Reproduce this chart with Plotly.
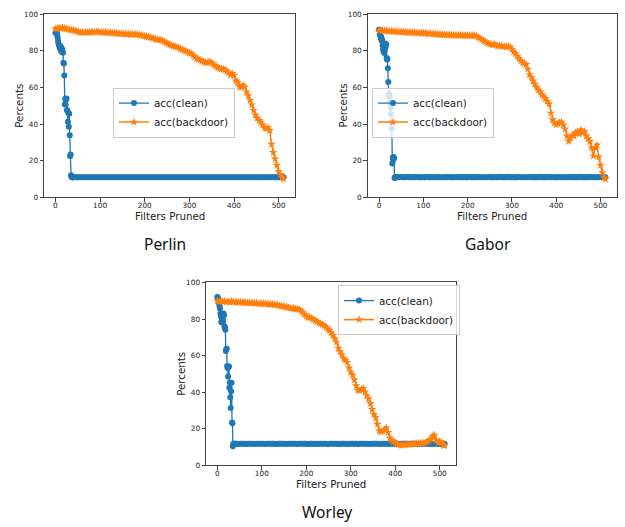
import plotly.graph_objects as go

# ---------------- data ----------------
filters_bd = list(range(0, 509, 4)) + [511]
filters_clean = list(range(0, 41)) + list(range(44, 509, 4)) + [511]

perlin_clean = [
    90.0, 89.8, 89.5, 89.9, 88.7, 87.2, 85.3, 84.0, 83.1, 82.5,
    81.4, 82.6, 80.3, 81.8, 79.6, 80.8, 79.2, 78.9, 73.4, 73.0,
    66.5, 50.8, 53.8, 50.5, 53.2, 54.0, 47.5, 47.2, 41.3, 46.0,
    38.5, 45.6, 33.9, 22.5, 23.4, 12.0, 11.1, 10.9, 10.9, 11.0, 10.9,
    11.0, 10.9, 10.9, 11.0, 10.9, 10.9, 10.9, 11.0, 10.9, 10.9, 10.9, 11.0, 10.9, 10.9, 10.9, 10.9, 11.0, 10.9, 10.9, 10.9,
    10.9, 10.9, 11.0, 10.9, 10.9, 10.9, 10.9, 10.9, 11.0, 10.9, 10.9, 10.9, 10.9, 10.9, 11.0, 10.9, 10.9, 10.9, 10.9, 10.9,
    11.0, 10.9, 10.9, 10.9, 10.9, 11.0, 10.9, 10.9, 10.9, 10.9, 10.9, 11.0, 10.9, 10.9, 10.9, 10.9, 10.9, 11.0, 10.9, 10.9,
    10.9, 10.9, 11.0, 10.9, 10.9, 10.9, 10.9, 10.9, 11.0, 10.9, 10.9, 10.9, 10.9, 10.9, 11.0, 10.9, 10.9, 10.9, 10.9, 10.9,
    11.0, 10.9, 10.9, 10.9, 10.9, 11.0, 10.9, 10.9, 10.9, 10.9, 10.9, 11.0, 10.9, 10.9, 10.9, 10.9, 10.9, 11.0, 10.9, 10.9,
    10.9, 10.9, 11.0, 10.9, 10.9, 10.9, 10.9, 10.9, 11.0, 10.9, 10.9, 10.9, 10.9, 10.9, 11.0, 10.9, 11.0, 11.0,
]
perlin_backdoor = [
    92.0, 92.2, 92.4, 92.3, 92.5, 92.2, 92.0, 91.8, 91.5, 91.3, 91.2, 91.0, 90.6, 90.3, 89.9, 90.1,
    90.0, 90.2, 90.0, 90.1, 90.3, 90.1, 90.2, 90.4, 90.3, 90.2, 90.1, 90.0, 90.2, 89.9, 89.8, 89.9,
    89.7, 89.6, 89.7, 89.5, 89.3, 89.4, 89.1, 89.3, 89.0, 89.2, 88.9, 89.1, 89.0, 88.8, 89.0, 88.6,
    88.4, 88.3, 88.0, 87.8, 87.5, 87.4, 87.0, 86.8, 86.3, 86.1, 86.0, 85.9, 85.4, 85.0, 84.4, 83.8,
    83.2, 83.0, 82.6, 82.4, 81.9, 81.6, 81.0, 80.6, 80.2, 79.9, 79.3, 78.8, 78.6, 77.5, 76.6, 75.8,
    75.3, 74.9, 74.4, 74.0, 73.6, 73.5, 74.0, 73.8, 72.8, 72.0, 71.4, 70.8, 70.3, 70.1, 70.2, 69.6,
    68.8, 67.9, 66.8, 67.6, 66.5, 63.5, 62.8, 60.5, 60.0, 61.2, 60.3, 57.6, 55.5, 53.0, 50.5, 47.5,
    45.0, 43.2, 42.0, 41.0, 39.5, 38.0, 37.6, 38.0, 36.5, 29.0, 24.5, 21.0, 17.5, 14.0, 12.5, 11.0,
    10.0,
]

gabor_clean = [
    91.5, 91.3, 89.0, 88.2, 86.8, 87.5, 85.6, 86.0, 83.0, 81.0,
    79.6, 82.3, 78.8, 80.5, 84.0, 82.0, 83.5, 76.0, 75.2, 75.6,
    70.5, 63.0, 56.0, 56.5, 55.0, 51.8, 49.0, 45.5, 40.8, 37.4,
    18.5, 21.8, 20.5, 22.0, 21.3, 10.6, 11.0, 11.0, 11.0, 11.0, 11.0,
    11.0, 11.1, 11.0, 11.0, 11.0, 11.1, 11.0, 11.0, 11.0, 11.0, 11.1, 11.0, 11.0, 11.0, 11.0, 11.0, 11.1, 11.0, 11.0, 11.0,
    11.0, 11.0, 11.1, 11.0, 11.0, 11.0, 11.0, 11.0, 11.1, 11.0, 11.0, 11.0, 11.0, 11.0, 11.1, 11.0, 11.0, 11.0, 11.0, 11.0,
    11.1, 11.0, 11.0, 11.0, 11.0, 11.1, 11.0, 11.0, 11.0, 11.0, 11.0, 11.1, 11.0, 11.0, 11.0, 11.0, 11.0, 11.1, 11.0, 11.0,
    11.0, 11.0, 11.1, 11.0, 11.0, 11.0, 11.0, 11.0, 11.1, 11.0, 11.0, 11.0, 11.0, 11.0, 11.1, 11.0, 11.0, 11.0, 11.0, 11.0,
    11.1, 11.0, 11.0, 11.0, 11.0, 11.1, 11.0, 11.0, 11.0, 11.0, 11.0, 11.1, 11.0, 11.0, 11.0, 11.0, 11.0, 11.1, 11.0, 11.0,
    11.0, 11.0, 11.1, 11.0, 11.0, 11.0, 11.0, 11.0, 11.1, 11.0, 11.0, 11.0, 11.0, 11.0, 11.1, 11.0, 11.0, 11.0,
]
gabor_backdoor = [
    91.0, 91.2, 91.0, 90.9, 91.1, 90.8, 90.6, 90.7, 90.5, 90.6, 90.4, 90.5, 90.3, 90.2, 90.3, 90.1,
    90.0, 90.2, 89.9, 90.0, 89.8, 89.9, 89.7, 89.8, 89.6, 89.7, 89.5, 89.6, 89.3, 89.4, 89.2, 89.3,
    89.0, 89.1, 88.9, 88.8, 88.9, 88.7, 88.8, 88.6, 88.7, 88.5, 88.6, 88.4, 88.5, 88.6, 88.4, 88.3,
    88.5, 88.2, 88.4, 88.3, 88.1, 88.4, 88.3, 88.0, 87.3, 86.8, 86.1, 85.4, 84.9, 84.2, 83.8, 83.5,
    83.1, 83.6, 83.2, 82.5, 82.8, 82.6, 82.3, 82.5, 82.2, 82.4, 82.0, 80.8, 79.5, 78.5, 77.0, 75.8,
    74.5, 73.5, 73.0, 72.5, 70.0, 67.0, 65.5, 63.5, 61.8, 60.0, 58.5, 57.5, 56.0, 54.8, 53.8, 52.5,
    51.0, 46.0, 42.5, 40.5, 39.8, 40.2, 40.9, 41.0, 39.5, 37.3, 33.5, 30.6, 32.4, 34.0, 33.5, 35.2,
    36.0, 34.5, 36.8, 35.4, 36.0, 33.5, 32.0, 30.5, 27.0, 22.5, 27.0, 28.6, 22.0, 17.5, 13.5, 10.8,
    10.0,
]

worley_clean = [
    92.0, 91.8, 91.0, 89.8, 88.3, 87.0, 85.8, 83.0, 81.5, 78.3,
    79.6, 82.8, 80.2, 78.6, 83.0, 82.1, 76.0, 75.2, 74.2, 62.5,
    63.4, 63.8, 54.3, 53.2, 48.6, 53.7, 54.0, 42.4, 45.3, 37.2,
    31.3, 40.5, 45.2, 23.4, 23.0, 10.4, 11.6, 11.8, 11.8, 11.8, 11.8,
    11.8, 11.7, 11.8, 11.8, 11.8, 11.7, 11.8, 11.8, 11.8, 11.8, 11.7, 11.8, 11.8, 11.8, 11.8, 11.8, 11.7, 11.8, 11.8, 11.8,
    11.8, 11.8, 11.7, 11.8, 11.8, 11.8, 11.8, 11.8, 11.7, 11.8, 11.8, 11.8, 11.8, 11.8, 11.7, 11.8, 11.8, 11.8, 11.8, 11.8,
    11.7, 11.8, 11.8, 11.8, 11.8, 11.7, 11.8, 11.8, 11.8, 11.8, 11.8, 11.7, 11.8, 11.8, 11.8, 11.8, 11.8, 11.7, 11.8, 11.8,
    11.8, 11.8, 11.7, 11.8, 11.8, 11.8, 11.8, 11.8, 11.7, 11.8, 11.8, 11.8, 11.8, 11.8, 11.7, 11.8, 11.8, 11.8, 11.8, 11.8,
    11.7, 11.8, 11.8, 11.8, 11.8, 11.7, 11.8, 11.8, 11.8, 11.8, 11.8, 11.7, 11.8, 11.8, 11.8, 11.8, 11.8, 11.7, 11.8, 11.8,
    11.8, 11.8, 11.7, 11.8, 11.8, 11.8, 11.8, 11.8, 11.7, 11.8, 11.8, 11.8, 11.8, 11.8, 11.7, 11.8, 11.8, 11.8,
]
worley_backdoor = [
    89.9, 89.6, 89.8, 89.5, 89.7, 89.4, 89.6, 89.3, 89.5, 89.4, 89.2, 89.4, 89.1, 89.3, 89.0, 89.2,
    89.0, 88.8, 89.0, 88.7, 88.9, 88.6, 88.8, 88.5, 88.4, 88.6, 88.3, 88.4, 88.1, 88.2, 88.0, 88.1,
    87.8, 87.9, 87.6, 87.3, 87.1, 87.0, 86.7, 86.5, 86.2, 86.0, 85.8, 85.9, 85.5, 85.6, 85.2, 84.4,
    83.5, 82.4, 81.5, 81.0, 80.8, 80.3, 79.7, 79.2, 78.6, 77.9, 77.5, 77.0, 76.4, 75.5, 74.6, 73.8,
    72.5, 71.0, 69.3, 67.4, 64.0, 62.2, 60.5, 58.3, 57.5, 56.2, 53.2, 51.0, 49.4, 46.8, 43.5, 41.0,
    40.8, 41.5, 42.0, 40.2, 38.0, 36.4, 33.8, 30.5, 27.8, 26.3, 22.5, 18.8, 18.3, 18.6, 19.5, 20.4,
    18.0, 14.8, 13.6, 13.0, 12.4, 11.6, 11.3, 11.0, 11.1, 11.3, 11.2, 11.4, 11.5, 11.6, 11.7, 11.8,
    11.9, 12.0, 12.1, 11.9, 12.3, 12.5, 12.8, 13.6, 14.4, 15.8, 16.5, 13.8, 12.3, 13.0, 12.6, 11.0,
    10.8,
]

panel_names = ["Perlin", "Gabor", "Worley"]
series_names = ["acc(clean)", "acc(backdoor)"]
x_ticks = [0, 100, 200, 300, 400, 500]
y_ticks = [0, 20, 40, 60, 80, 100]

assert len(filters_bd) == len(perlin_backdoor) == len(gabor_backdoor) == len(worley_backdoor)
assert len(filters_clean) == len(perlin_clean) == len(gabor_clean) == len(worley_clean), (
    len(filters_clean), len(perlin_clean), len(gabor_clean), len(worley_clean))

# ---------------- styling / layout ----------------
W, H = 625, 527
BLUE = "#1f77b4"
ORANGE = "#ff7f0e"
FONT = "DejaVu Sans"

# plot boxes in pixels (left, right, top, bottom)
boxes = [(44, 295, 10.3, 196.7), (367.7, 616.7, 10.3, 196.7), (206, 456, 283.3, 469.3)]
legend_pos = [(113, 85), (372, 85), (338, 286)]

fig = go.Figure()
clean_sets = [perlin_clean, gabor_clean, worley_clean]
bd_sets = [perlin_backdoor, gabor_backdoor, worley_backdoor]
legend_ids = ["legend", "legend2", "legend3"]

for i in range(3):
    sfx = "" if i == 0 else str(i + 1)
    fig.add_trace(go.Scatter(
        x=filters_clean, y=clean_sets[i], mode="lines+markers", name=series_names[0],
        line=dict(color=BLUE, width=1.3), marker=dict(symbol="circle", size=6, color=BLUE),
        xaxis="x" + sfx, yaxis="y" + sfx, legend=legend_ids[i]))
    fig.add_trace(go.Scatter(
        x=filters_bd, y=bd_sets[i], mode="lines+markers", name=series_names[1],
        line=dict(color=ORANGE, width=1.6), marker=dict(symbol="star", size=6.5, color=ORANGE),
        xaxis="x" + sfx, yaxis="y" + sfx, legend=legend_ids[i]))

layout = dict(width=W, height=H, margin=dict(l=0, r=0, t=0, b=0),
              paper_bgcolor="white", plot_bgcolor="white",
              font=dict(family=FONT, color="#222"), showlegend=True)

annotations = []
for i, (l, r, t, b) in enumerate(boxes):
    sfx = "" if i == 0 else str(i + 1)
    axis_common = dict(showline=True, linecolor="#444", linewidth=1, mirror=True,
                       ticks="outside", ticklen=3.5, tickwidth=0.8, tickcolor="#444",
                       showgrid=False, zeroline=False,
                       tickfont=dict(family=FONT, size=7.3, color="#222"))
    layout["xaxis" + sfx] = dict(domain=[l / W, r / W], range=[-25.55, 536.55],
                                 tickvals=x_ticks, anchor="y" + sfx,
                                 ticklabelstandoff=-3, **axis_common)
    layout["yaxis" + sfx] = dict(domain=[1 - b / H, 1 - t / H], range=[0, 100],
                                 tickvals=y_ticks, anchor="x" + sfx, **axis_common)
    lx, ly = legend_pos[i]
    layout[legend_ids[i]] = dict(x=lx / W, y=1 - ly / H, xanchor="left", yanchor="top",
                                 bgcolor="rgba(255,255,255,0.8)", bordercolor="#cccccc",
                                 borderwidth=1, itemwidth=30,
                                 font=dict(family=FONT, size=10.4, color="#222"))
    cx = (l + r) / 2
    annotations.append(dict(text="Filters Pruned", x=cx / W, y=1 - (b + 19) / H,
                            xref="paper", yref="paper", showarrow=False,
                            xanchor="center", yanchor="middle",
                            font=dict(family=FONT, size=10.3, color="#222")))
    annotations.append(dict(text="Percents", x=(l - 25) / W, y=1 - ((t + b) / 2) / H,
                            xref="paper", yref="paper", showarrow=False, textangle=-90,
                            xanchor="center", yanchor="middle",
                            font=dict(family=FONT, size=10.3, color="#222")))

title_pos = [(165, 244), (488.3, 244), (326.7, 516.7)]
for name, (tx, ty) in zip(panel_names, title_pos):
    annotations.append(dict(text=name, x=tx / W, y=1 - ty / H, xref="paper", yref="paper",
                            showarrow=False, xanchor="center", yanchor="middle",
                            font=dict(family="Noto Sans", size=15.5, color="#111")))

layout["annotations"] = annotations
fig.update_layout(**layout)
fig.write_html("out.html")
